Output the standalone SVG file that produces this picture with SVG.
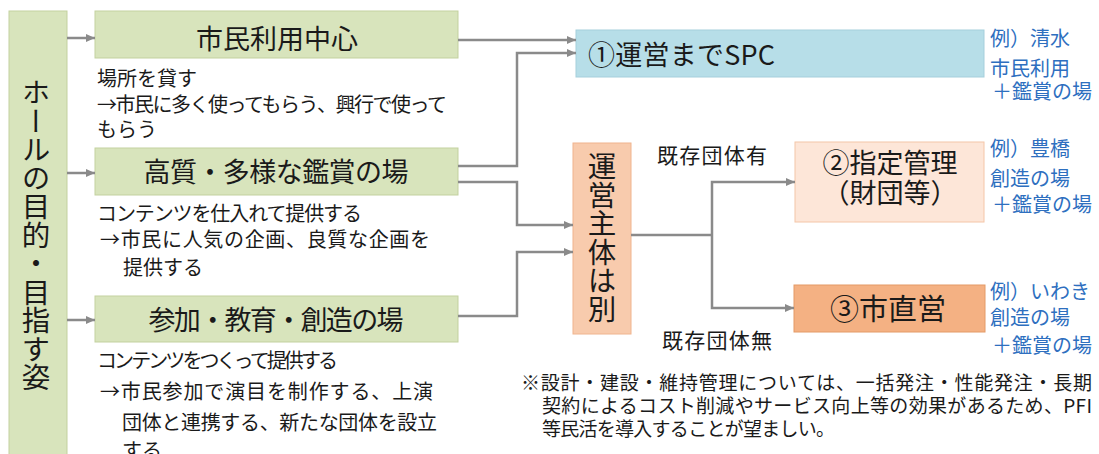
<svg xmlns="http://www.w3.org/2000/svg" width="1099" height="454" viewBox="0 0 1099 454">
<style>
text{font-family:"Noto Sans CJK JP","Noto Sans CJK SC",sans-serif;fill:#1a1a1a}
.green{fill:#d8e4bc;stroke:#c3d19f;stroke-width:1}
.title{font-size:27px;text-anchor:middle}
.desc{font-size:20px}
.blue{font-size:20px;fill:#2e6fbf}
.conn{fill:none;stroke:#8a8a8a;stroke-width:2.5}
.vert{writing-mode:vertical-rl}
</style>
<defs>
<marker id="arr" markerUnits="userSpaceOnUse" markerWidth="10" markerHeight="10" refX="9" refY="5" orient="auto">
<path d="M0,1 L9,5 L0,9 z" fill="#8a8a8a"/>
</marker>
</defs>
<rect width="1099" height="454" fill="#ffffff"/>

<g id="purpose">
<rect class="green" x="9" y="11" width="58" height="450"/>
<text class="vert" x="36" y="78" style="font-size:28.5px">ホールの目的・目指す姿</text>
</g>

<g id="node-shimin">
<rect class="green" x="95" y="11" width="363" height="47"/>
<text class="title" x="277" y="49" font-size="28">市民利用中心</text>
<text class="desc" x="97" y="86" font-size="19" textLength="100">場所を貸す</text>
<text class="desc" x="97" y="112" font-size="19" textLength="350">→市民に多く使ってもらう、興行で使って</text>
<text class="desc" x="97" y="137" font-size="19">もらう</text>
</g>

<g id="node-kansho">
<rect class="green" x="95" y="148" width="363" height="47"/>
<text class="title" x="276" y="182" textLength="265">高質・多様な鑑賞の場</text>
<text class="desc" x="97" y="221" textLength="265">コンテンツを仕入れて提供する</text>
<text class="desc" x="100" y="247" textLength="330">→市民に人気の企画、良質な企画を</text>
<text class="desc" x="123" y="275">提供する</text>
</g>

<g id="node-sanka">
<rect class="green" x="95" y="296" width="363" height="46"/>
<text class="title" x="276" y="330" textLength="255">参加・教育・創造の場</text>
<text class="desc" x="97" y="368" textLength="241">コンテンツをつくって提供する</text>
<text class="desc" x="100" y="399" textLength="333">→市民参加で演目を制作する、上演</text>
<text class="desc" x="122" y="430" textLength="315">団体と連携する、新たな団体を設立</text>
<text class="desc" x="122" y="458">する</text>
</g>

<g id="node-spc">
<rect x="576" y="30" width="408" height="47" fill="#b7dee8" stroke="#a5cfdc"/>
<text x="588" y="65" font-size="27" textLength="187">①運営までSPC</text>
<text class="blue" x="990" y="46">例）清水</text>
<text class="blue" x="990" y="76">市民利用</text>
<text class="blue" x="992" y="99">＋鑑賞の場</text>
</g>

<g id="node-unei">
<rect x="573" y="143" width="58" height="191" fill="#f8cbad" stroke="#f0b48e"/>
<text class="vert" x="602" y="152" style="font-size:28.5px">運営主体は別</text>
</g>

<g id="node-shitei">
<rect x="795" y="142" width="189" height="80" fill="#fde6d8" stroke="#f4c6a8"/>
<text x="890" y="173" font-size="27" text-anchor="middle">②指定管理</text>
<text x="890" y="203" font-size="27" text-anchor="middle">（財団等）</text>
<text class="blue" x="990" y="156">例）豊橋</text>
<text class="blue" x="990" y="186">創造の場</text>
<text class="blue" x="992" y="212">＋鑑賞の場</text>
</g>

<g id="node-chokuei">
<rect x="794" y="285" width="191" height="47" fill="#f4b183" stroke="#e49a66"/>
<text x="888" y="320" font-size="29" text-anchor="middle">③市直営</text>
<text class="blue" x="990" y="299">例）いわき</text>
<text class="blue" x="990" y="325">創造の場</text>
<text class="blue" x="992" y="353">＋鑑賞の場</text>
</g>

<g id="labels">
<text x="657" y="163" font-size="21" textLength="110">既存団体有</text>
<text x="662" y="348" font-size="21" textLength="110">既存団体無</text>
</g>

<g id="note">
<text x="521" y="390" font-size="19" textLength="571">※設計・建設・維持管理については、一括発注・性能発注・長期</text>
<text x="542" y="413" font-size="19" textLength="550">契約によるコスト削減やサービス向上等の効果があるため、PFI</text>
<text x="542" y="436" font-size="19" textLength="293">等民活を導入することが望ましい。</text>
</g>

<g id="connectors">
<path class="conn" d="M67,38 H95" marker-end="url(#arr)"/>
<path class="conn" d="M67,173 H95" marker-end="url(#arr)"/>
<path class="conn" d="M67,320 H95" marker-end="url(#arr)"/>
<path class="conn" d="M458,40 H576" marker-end="url(#arr)"/>
<path class="conn" d="M458,166 H517 V53 H576" marker-end="url(#arr)"/>
<path class="conn" d="M458,182 H517 V225 H573" marker-end="url(#arr)"/>
<path class="conn" d="M458,316 H517 V252 H573" marker-end="url(#arr)"/>
<path class="conn" d="M631,235 H712" stroke-width="4"/>
<path class="conn" d="M712,235 V182 H795" marker-end="url(#arr)"/>
<path class="conn" d="M712,235 V308 H794" marker-end="url(#arr)"/>
</g>
</svg>
